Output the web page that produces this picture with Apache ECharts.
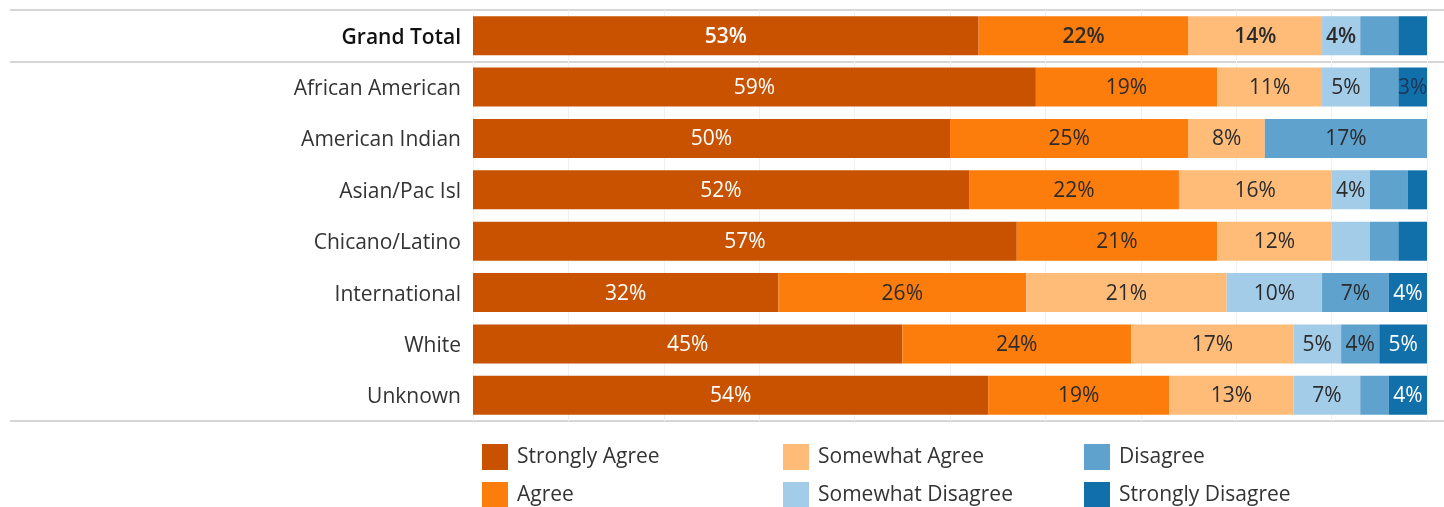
<!DOCTYPE html>
<html>
<head>
<meta charset="utf-8">
<script src="https://cdn.jsdelivr.net/npm/echarts@6/dist/echarts.min.js"></script>
<style>
  html, body { margin: 0; padding: 0; background: #fff; }
  #chart { width: 1444px; height: 507px; }
</style>
</head>
<body>
<div id="chart"></div>
<script>
// Row labels (top to bottom)
const categories = ['Grand Total', 'African American', 'American Indian', 'Asian/Pac Isl',
  'Chicano/Latino', 'International', 'White', 'Unknown'];

// Percent of respondents per response level
const stronglyAgree    = [53, 59, 50, 52, 57, 32, 45, 54];
const agree            = [22, 19, 25, 22, 21, 26, 24, 19];
const somewhatAgree    = [14, 11,  8, 16, 12, 21, 17, 13];
const somewhatDisagree = [ 4,  5,  0,  4,  4, 10,  5,  7];
const disagree         = [ 4,  3, 17,  4,  3,  7,  4,  3];
const stronglyDisagree = [ 3,  3,  0,  2,  3,  4,  5,  4];

// Segments too narrow for their label: [series name, row index]
const hiddenLabels = [
  ['Disagree', 0], ['Strongly Disagree', 0],
  ['Disagree', 1],
  ['Disagree', 3], ['Strongly Disagree', 3],
  ['Somewhat Disagree', 4], ['Disagree', 4], ['Strongly Disagree', 4],
  ['Disagree', 7]
];
// Label colour overrides: [series name, row index, colour]
const labelColorOverrides = [['Strongly Disagree', 1, '#1d3557']];

const levels = [
  { name: 'Strongly Agree',    values: stronglyAgree,    color: '#c85200', text: '#ffffff' },
  { name: 'Agree',             values: agree,            color: '#fc7d0b', text: '#2b2b2b' },
  { name: 'Somewhat Agree',    values: somewhatAgree,    color: '#ffbc79', text: '#2b2b2b' },
  { name: 'Somewhat Disagree', values: somewhatDisagree, color: '#a3cce9', text: '#2b2b2b' },
  { name: 'Disagree',          values: disagree,         color: '#5fa2ce', text: '#2b2b2b' },
  { name: 'Strongly Disagree', values: stronglyDisagree, color: '#1170aa', text: '#ffffff' }
];

const FONT = '"Open Sans", "Noto Sans", sans-serif';
const FS = 21;

const series = levels.map(lv => ({
  name: lv.name,
  type: 'bar',
  stack: 'total',
  barWidth: 39,
  xAxisIndex: 0,
  yAxisIndex: 0,
  itemStyle: { color: lv.color },
  label: {
    show: true,
    position: 'inside',
    offset: [0, 1],
    fontFamily: FONT,
    fontSize: FS,
    color: lv.text,
    formatter: p => p.value + '%'
  },
  data: lv.values.map((v, i) => {
    const hidden = v === 0 || hiddenLabels.some(h => h[0] === lv.name && h[1] === i);
    const ov = labelColorOverrides.find(o => o[0] === lv.name && o[1] === i);
    const lab = { show: !hidden };
    if (i === 0) lab.fontWeight = 600;
    if (ov) lab.color = ov[2];
    return { value: v, label: lab };
  })
}));

// Full-width row rules: top, below the total row, and bottom
const ruleColors = ['#d6d6d6', '#d6d6d6', 'transparent', 'transparent', 'transparent',
  'transparent', 'transparent', 'transparent', '#d6d6d6'];

// Legend laid out as three columns of two entries
const legendSlots = [
  { name: 'Strongly Agree',    left: 482,  top: 444 },
  { name: 'Agree',             left: 482,  top: 482 },
  { name: 'Somewhat Agree',    left: 783,  top: 444 },
  { name: 'Somewhat Disagree', left: 783,  top: 482 },
  { name: 'Disagree',          left: 1084, top: 444 },
  { name: 'Strongly Disagree', left: 1084, top: 482 }
];
const legends = legendSlots.map(s => ({
  left: s.left,
  top: s.top,
  padding: 0,
  data: [s.name],
  icon: 'rect',
  itemWidth: 26,
  itemHeight: 26,
  selectedMode: false,
  textStyle: { fontFamily: FONT, fontSize: FS, color: '#333', padding: [2, 0, 0, 4] }
}));

const option = {
  animation: false,
  backgroundColor: '#ffffff',
  grid: [
    { left: 473, right: 17, top: 10, bottom: 86 },
    { left: 10, right: 0, top: 10, bottom: 86 }
  ],
  xAxis: [
    {
      gridIndex: 0, type: 'value', min: 0, max: 100, interval: 10,
      axisLabel: { show: false }, axisTick: { show: false }, axisLine: { show: false },
      splitLine: { show: true, lineStyle: { color: '#f0f0f0', width: 1 } }
    },
    {
      gridIndex: 1, type: 'value', min: 0, max: 1, show: false
    }
  ],
  yAxis: [
    {
      gridIndex: 0, type: 'category', data: categories, inverse: true,
      axisLine: { show: false }, axisTick: { show: false }, splitLine: { show: false },
      axisLabel: {
        margin: 12,
        fontFamily: FONT,
        fontSize: FS,
        color: '#333',
        padding: [4, 0, 0, 0],
        formatter: (v, i) => i === 0 ? '{b|' + v + '}' : v,
        rich: { b: { fontFamily: FONT, fontSize: FS, fontWeight: 600, color: '#111' } }
      }
    },
    {
      gridIndex: 1, type: 'category', data: categories, inverse: true,
      axisLine: { show: false }, axisTick: { show: false }, axisLabel: { show: false },
      splitLine: { show: true, lineStyle: { color: ruleColors, width: 2 } }
    }
  ],
  legend: legends,
  series: series
};

const chart = echarts.init(document.getElementById('chart'), null, { renderer: 'canvas' });
chart.setOption(option);
</script>
</body>
</html>
